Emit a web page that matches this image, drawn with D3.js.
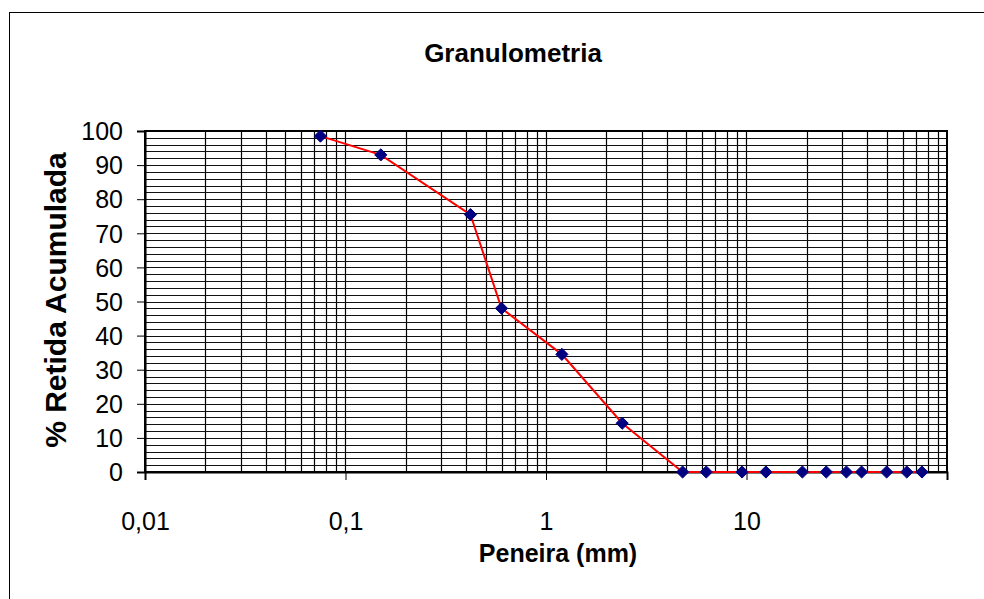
<!DOCTYPE html>
<html>
<head>
<meta charset="utf-8">
<script src="https://cdn.jsdelivr.net/npm/d3@7"></script>
<style>
  body { margin: 0; background: #fff; }
  text { font-family: "Liberation Sans", Arial, sans-serif; fill: #000; }
</style>
</head>
<body>
<div id="chart"></div>
<script>
// sieve openings (mm) and cumulative % retained
const sieves = [0.075, 0.15, 0.42, 0.6, 1.2, 2.4, 4.8, 6.3, 9.5, 12.5, 19, 25, 31.5, 37.5, 50, 63, 75];
const retained = [98.5, 93, 75.5, 48, 34.5, 14.3, 0, 0, 0, 0, 0, 0, 0, 0, 0, 0, 0];
const xTicks = [0.01, 0.1, 1, 10];
const yTicks = [0, 10, 20, 30, 40, 50, 60, 70, 80, 90, 100];

const W = 984, H = 599;
const margin = { top: 131, right: 37, bottom: 127, left: 145 };
const width = W - margin.left - margin.right;
const height = H - margin.top - margin.bottom;

const svg = d3.select("#chart").append("svg")
  .attr("width", W).attr("height", H);

// outer chart border (runs off the right/bottom edge)
svg.append("rect")
  .attr("x", 9.5).attr("y", 12.5)
  .attr("width", W + 20).attr("height", H + 20)
  .attr("fill", "none").attr("stroke", "#000").attr("stroke-width", 1);

const x = d3.scaleLog().domain([0.01, 100]).range([0, width]);
const y = d3.scaleLinear().domain([0, 100]).range([height, 0]);

const g = svg.append("g")
  .attr("transform", "translate(" + margin.left + "," + margin.top + ")");

// vertical gridlines: every 1..9 of each decade
let vLines = [];
for (let d = -2; d < 2; d++) {
  for (let k = 1; k <= 9; k++) vLines.push(k * Math.pow(10, d));
}
g.append("g").selectAll("line")
  .data(vLines)
  .enter().append("line")
  .attr("x1", d => Math.round(x(d)) + 0.5).attr("x2", d => Math.round(x(d)) + 0.5)
  .attr("y1", 0).attr("y2", height)
  .attr("stroke", "#000").attr("stroke-width", 1.2);

// horizontal gridlines every 2
const hLines = d3.range(0, 101, 2);
g.append("g").selectAll("line")
  .data(hLines)
  .enter().append("line")
  .attr("x1", 0).attr("x2", width)
  .attr("y1", d => Math.round(y(d)) + 0.5).attr("y2", d => Math.round(y(d)) + 0.5)
  .attr("stroke", "#111").attr("stroke-width", 1.2);

// plot border
g.append("rect")
  .attr("x", 0).attr("y", 0)
  .attr("width", width).attr("height", height)
  .attr("fill", "none").attr("stroke", "#000").attr("stroke-width", 2);

// axes
const xAxis = d3.axisBottom(x).tickValues(xTicks)
  .tickFormat(d => String(d).replace(".", ",")).tickSize(8).tickPadding(32);
const gx = g.append("g").attr("transform", "translate(0," + height + ")").call(xAxis);
gx.select(".domain").attr("stroke-width", 2);
gx.selectAll("text").style("font-size", "25px").style("font-family", "Liberation Sans, Arial, sans-serif");

const yAxis = d3.axisLeft(y).tickValues(yTicks).tickSize(8).tickPadding(14);
const gy = g.append("g").call(yAxis);
gy.select(".domain").attr("stroke-width", 2);
gy.selectAll("text").style("font-size", "25px").attr("dy", "0.35em")
  .style("font-family", "Liberation Sans, Arial, sans-serif");

// series line
const line = d3.line().x((d, i) => x(sieves[i])).y(d => y(d));
g.append("path")
  .datum(retained)
  .attr("d", line)
  .attr("fill", "none").attr("stroke", "#ff0000").attr("stroke-width", 2);

// diamond markers
g.append("g").selectAll("path")
  .data(retained)
  .enter().append("path")
  .attr("transform", (d, i) => "translate(" + x(sieves[i]) + "," + y(d) + ")")
  .attr("d", d3.symbol().type(d3.symbolDiamond2).size(95))
  .attr("fill", "#000080").attr("stroke", "#000080").attr("stroke-width", 1);

// titles
svg.append("text")
  .attr("x", 513).attr("y", 62)
  .attr("text-anchor", "middle")
  .style("font-size", "26px").style("font-weight", "bold")
  .text("Granulometria");

svg.append("text")
  .attr("x", 558).attr("y", 562)
  .attr("text-anchor", "middle")
  .style("font-size", "25px").style("font-weight", "bold")
  .text("Peneira (mm)");

svg.append("text")
  .attr("transform", "translate(66,300) rotate(-90)")
  .attr("text-anchor", "middle")
  .style("font-size", "30px").style("font-weight", "bold")
  .text("% Retida Acumulada");
</script>
</body>
</html>
